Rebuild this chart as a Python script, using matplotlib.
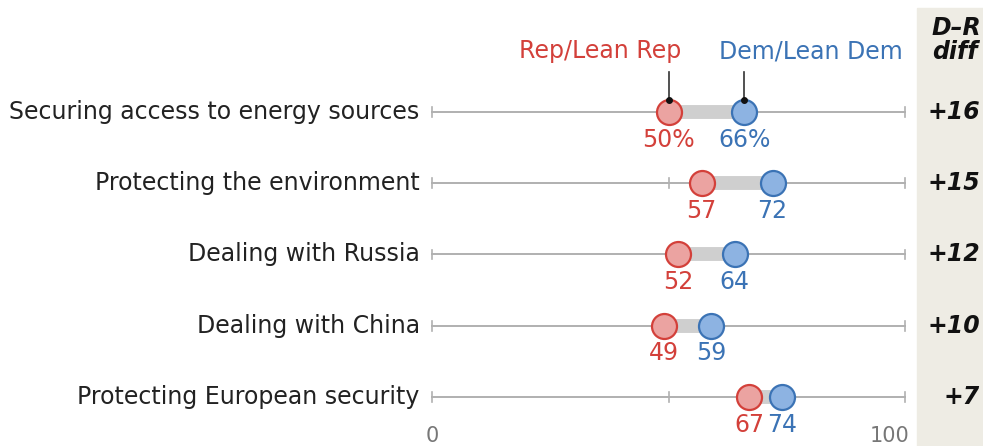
import matplotlib.pyplot as plt

# Share saying each is a very important reason for the US to work with Europe
topics = ['Securing access to energy sources', 'Protecting the environment',
          'Dealing with Russia', 'Dealing with China', 'Protecting European security']
rep = [50, 57, 52, 49, 67]
dem = [66, 72, 64, 59, 74]
diff_labels = ['+16', '+15', '+12', '+10', '+7']

red_edge, red_fill = '#D3403A', '#EBA3A1'
blue_edge, blue_fill = '#3B73B5', '#8DB3E2'

fig = plt.figure(figsize=(9.83, 4.46), dpi=100)
ax = fig.add_axes([432 / 983, 0, 473 / 983, 1])
ax.set_xlim(0, 100)
ax.set_ylim(4.688, -1.572)
ax.axis('off')

# shaded diff column
ax.add_patch(plt.Rectangle((917 / 983, 0), 66 / 983, 438 / 446, transform=fig.transFigure,
                           color='#EEECE4', zorder=0, clip_on=False))

for i, (t, r, d, lab) in enumerate(zip(topics, rep, dem, diff_labels)):
    ax.plot([0, 100], [i, i], color='#B0B0B0', lw=1.4, zorder=1, clip_on=False)
    for xt in [0, 50, 100]:
        ax.plot([xt, xt], [i - 0.07, i + 0.07], color='#B0B0B0', lw=1.2, zorder=1, clip_on=False)
    ax.plot([r, d], [i, i], color='#CFCFCF', lw=10, zorder=2, solid_capstyle='butt')
    ax.plot(r, i, 'o', ms=18, mfc=red_fill, mec=red_edge, mew=1.6, zorder=3, clip_on=False)
    ax.plot(d, i, 'o', ms=18, mfc=blue_fill, mec=blue_edge, mew=1.6, zorder=3, clip_on=False)
    sfx = '%' if i == 0 else ''
    ax.text(r, i + 0.22, f'{r}{sfx}', color=red_edge, fontsize=17, ha='center', va='top')
    ax.text(d, i + 0.22, f'{d}{sfx}', color=blue_edge, fontsize=17, ha='center', va='top')
    ax.text(-2.6, i, t, fontsize=17, ha='right', va='center', color='#222222')
    ax.text(115.9, i, lab, fontsize=17, ha='right', va='center',
            fontweight='bold', fontstyle='italic', color='#111111', clip_on=False)

# legend labels with leader lines
ax.text(35.5, -0.85, 'Rep/Lean Rep', color=red_edge, fontsize=17, ha='center', va='center')
ax.text(80.2, -0.85, 'Dem/Lean Dem', color=blue_edge, fontsize=17, ha='center', va='center')
for x0 in [rep[0], dem[0]]:
    ax.plot([x0, x0], [-0.56, -0.17], color='#333333', lw=1.2, zorder=4)
    ax.plot(x0, -0.17, 'o', ms=4, color='#111111', zorder=4)

# diff header
ax.text(110.9, -1.18, 'D\u2013R', fontsize=17, ha='center', va='center',
        fontweight='bold', fontstyle='italic', color='#111111', clip_on=False)
ax.text(110.6, -0.84, 'diff', fontsize=17, ha='center', va='center',
        fontweight='bold', fontstyle='italic', color='#111111', clip_on=False)

# axis labels
ax.text(0, 4.55, '0', fontsize=15, ha='center', va='center', color='#777777')
ax.text(101, 4.55, '100', fontsize=15, ha='right', va='center', color='#777777')

fig.savefig('out.png', dpi=100)
